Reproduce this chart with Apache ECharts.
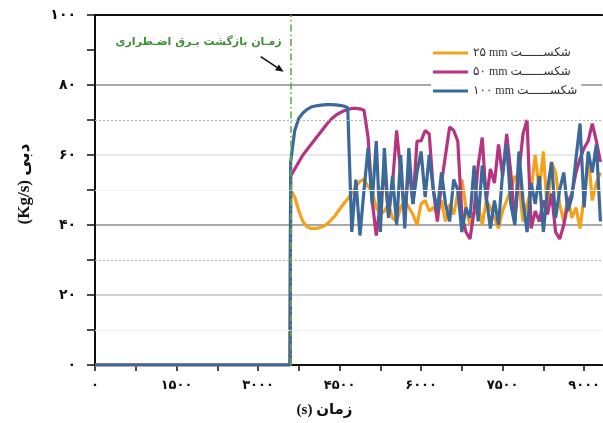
<!DOCTYPE html>
<html><head><meta charset="utf-8">
<script src="https://cdn.jsdelivr.net/npm/echarts@6/dist/echarts.min.js"></script>
<style>html,body{margin:0;padding:0;background:#fff}#c{width:603px;height:423px}</style>
</head><body><div id="c"></div>
<script>
// ---- data ----
var seriesNames = ['۲۵ mm شکســــــت', '۵۰ mm شکســــــت', '۱۰۰ mm شکســــــت'];
var eventTime = 3600;
var annotationText = 'زمـان بازگشت بـرق اضـطراری';
var xName = '(s) زمان';
var yName = '(Kg/s) دبی';

var times = [0, 3590,
 3600,3675,3750,3825,3900,3975,4050,4125,4200,4275,4350,4425,4500,4575,4650,
 4725,4800,4875,4950,5025,5100,5175,5250,5325,5400,5475,5550,5625,5700,5775,
 5850,5925,6000,6075,6150,6225,6300,6375,6450,6525,6600,6675,6750,6825,6900,
 6975,7050,7125,7200,7275,7350,7425,7500,7575,7650,7725,7800,7875,7950,8025,
 8100,8175,8250,8325,8400,8475,8550,8625,8700,8775,8850,8925,9000,9075,9150,
 9225,9300];

var flow25 = [0, 0,
 50,48,44,41,39.5,39,39,39.2,39.6,40.3,41.5,42.8,44.5,46,47.5,
 49,51,52.5,53,51,49.5,45,43,44,46,42,41,45,47,45,43,40,46,47,44,
 45,43,47,41,46,43,49,53,45,40,43,46,40,47,45,42,39,44,47,50,
 54,52,41,46,50,60,50,61,43,58,55,46,41,48,42,45,39,48,60,47,52,55];

var flow50 = [0, 0,
 54,56,58,60,61.5,63,64.5,66,67.5,69,70.3,71.3,72,72.6,73,
 73.3,73.3,73.2,72.8,65,47,37,46,56,43,52,67,55,43,57,46,64,64,67,66,
 50,41,52,60,68,67,64,43,38,36,44,57,65,47,56,52,63,54,66,55,
 41,55,66,70,39,44,41,47,43,49,38,36,40,46,49,55,59,62,64,69,64,58];

var flow100 = [0, 0,
 58,67,70.5,72,73,73.7,74,74.2,74.3,74.4,74.4,74.3,74.2,74,73.5,
 38,53,37,50,62,46,64,38,62,42,54,40,60,39,62,46,55,61,48,60,
 50,44,55,46,41,53,50,38,45,42,57,41,57,48,39,47,40,55,63,46,
 40,61,47,38,52,46,54,38,50,58,42,50,55,44,48,59,69,45,61,55,63,41];

var xTickLabels = [0, 1500, 3000, 4500, 6000, 7500, 9000];
var yTickLabels = [0, 20, 40, 60, 80, 100];

// ---- helpers ----
var FA = '۰۱۲۳۴۵۶۷۸۹';
function fa(n){ return String(n).replace(/[0-9]/g, function(d){ return FA[+d]; }); }
function pairs(vals){ return times.map(function(t,i){ return [t, vals[i]]; }); }

var serif = '"Liberation Serif", "DejaVu Serif", "DejaVu Sans", serif';
var colors = ['#f5a11c', '#b5337f', '#3b6a9a'];

var chart = echarts.init(document.getElementById('c'), null, {renderer:'canvas'});

function mkSeries(name, vals, color, extra){
  var s = {
    name: name, type: 'line', data: pairs(vals), showSymbol: false, symbol: 'none',
    lineStyle: {width: 3.2, color: color}, itemStyle: {color: color},
    animation: false, z: 3
  };
  if (extra) for (var k in extra) s[k] = extra[k];
  return s;
}

var option = {
  backgroundColor: '#fff',
  animation: false,
  grid: {left: 95, right: 0, top: 15, bottom: 58, containLabel: false},
  legend: {
    data: seriesNames, orient: 'vertical', left: 431, top: 45,
    backgroundColor: '#fff', padding: [2, 4, 2, 2], itemGap: 7,
    itemWidth: 35, itemHeight: 3, icon: 'rect',
    textStyle: {fontFamily: serif, fontSize: 12, color: '#333'}
  },
  xAxis: [{
    type: 'value', min: 0, max: 9330, interval: 750,
    name: xName, nameLocation: 'middle', nameGap: 38,
    nameTextStyle: {fontFamily: serif, fontSize: 15, fontWeight: 'bold', color: '#111', padding: [0, 48, 0, 0]},
    axisLine: {show: true, lineStyle: {color: '#111', width: 2}},
    axisTick: {show: true, length: 6, lineStyle: {color: '#111', width: 1.5}},
    axisLabel: {
      margin: 14, fontFamily: serif, fontSize: 13, fontWeight: 'bold', color: '#111',
      showMaxLabel: false,
      formatter: function(v){ return xTickLabels.indexOf(v) >= 0 ? fa(v) : ''; }
    },
    splitLine: {show: false}
  }, {
    type: 'value', min: 0, max: 9330, position: 'top',
    axisLine: {show: true, lineStyle: {color: '#111', width: 2}},
    axisTick: {show: false}, axisLabel: {show: false}, splitLine: {show: false}
  }],
  yAxis: {
    type: 'value', min: 0, max: 100, interval: 20,
    name: yName, nameLocation: 'middle', nameGap: 62, nameRotate: 90,
    nameTextStyle: {fontFamily: serif, fontSize: 17, fontWeight: 'bold', color: '#111', padding: [0, 0, 0, 12]},
    axisLine: {show: true, lineStyle: {color: '#111', width: 2}},
    axisTick: {show: true, length: 8, lineStyle: {color: '#111', width: 1.5}},
    minorTick: {show: true, splitNumber: 2, length: 8, lineStyle: {color: '#111', width: 1.5}},
    axisLabel: {
      margin: 19, fontFamily: serif, fontSize: 14, fontWeight: 'bold', color: '#111',
      formatter: function(v){ return yTickLabels.indexOf(v) >= 0 ? fa(v) : ''; }
    },
    splitLine: {show: true, lineStyle: {width: 1.5, color: ['transparent', '#c4c4c4', '#8c8c8c', '#e0e0e0', '#8c8c8c', '#111']}}
  },
  series: [
    mkSeries(seriesNames[0], flow25, colors[0], {
      markLine: {
        silent: true, symbol: 'none', label: {show: false}, animation: false,
        data: [
          {yAxis: 70, lineStyle: {type: [2, 2], color: '#b0b0b0', width: 1}},
          {yAxis: 30, lineStyle: {type: [2, 2], color: '#b0b0b0', width: 1}},
          {yAxis: 10, lineStyle: {type: 'solid', color: '#f2f2f2', width: 1}},
          {yAxis: 50, lineStyle: {type: 'solid', color: '#f4f4f4', width: 1}}
        ]
      }
    }),
    mkSeries(seriesNames[1], flow50, colors[1]),
    mkSeries(seriesNames[2], flow100, colors[2], {
      markLine: {
        silent: true, symbol: 'none', label: {show: false}, animation: false,
        data: [{xAxis: eventTime, lineStyle: {type: [7, 3, 1.5, 3], color: '#5fae4a', width: 1.6}}]
      }
    })
  ]
};
chart.setOption(option);

// annotation placed relative to the event line (data coordinates -> pixels)
var pText = chart.convertToPixel({xAxisIndex: 0, yAxisIndex: 0}, [eventTime, 92.3]);
var pTip = chart.convertToPixel({xAxisIndex: 0, yAxisIndex: 0}, [eventTime, 83.8]);
var tip = [pTip[0] - 7, pTip[1]];
var tail = [tip[0] - 23, tip[1] - 15];
var dx = tip[0] - tail[0], dy = tip[1] - tail[1], L = Math.sqrt(dx*dx + dy*dy);
var ux = dx / L, uy = dy / L, hl = 8, hw = 3.5;
var base = [tip[0] - ux*hl, tip[1] - uy*hl];
chart.setOption({
  graphic: [
    {type: 'text', x: pText[0] - 9, y: pText[1], z: 10,
     style: {text: annotationText, align: 'right', verticalAlign: 'middle',
             fill: '#3f8f3a', font: 'bold 11px "DejaVu Sans", sans-serif'}},
    {type: 'line', z: 10, shape: {x1: tail[0], y1: tail[1], x2: base[0], y2: base[1]},
     style: {stroke: '#111', lineWidth: 1.6}},
    {type: 'polygon', z: 10, shape: {points: [tip, [base[0] - uy*hw, base[1] + ux*hw], [base[0] + uy*hw, base[1] - ux*hw]]},
     style: {fill: '#111'}}
  ]
});
</script>
</body></html>
